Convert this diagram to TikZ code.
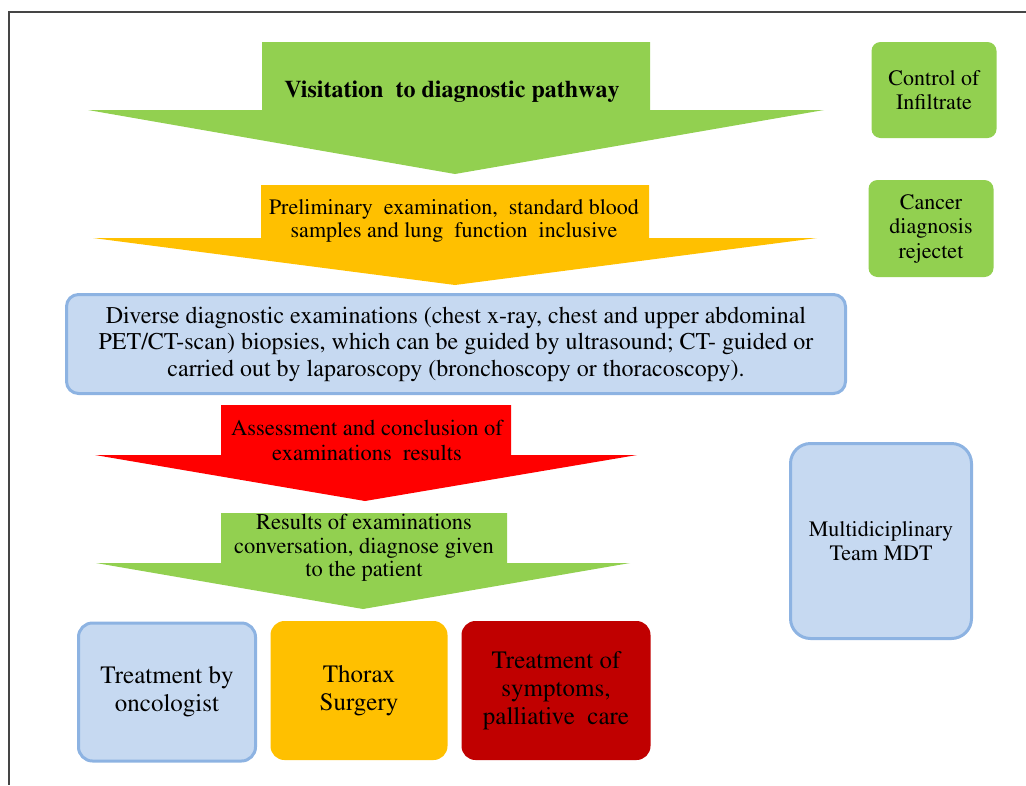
\documentclass[tikz,border=0pt]{standalone}
\usepackage[T1]{fontenc}
\renewcommand{\rmdefault}{ptm}
\usetikzlibrary{positioning,calc}
\definecolor{leafgreen}{HTML}{92D050}
\definecolor{amber}{HTML}{FFC000}
\definecolor{alarmred}{HTML}{FF0000}
\definecolor{darkred}{HTML}{C00000}
\definecolor{paleblue}{HTML}{C6D9F1}
\definecolor{edgeblue}{HTML}{8DB3E2}
\definecolor{framegray}{HTML}{454545}
\tikzset{
  arrowtext/.style={
    align=center,
    inner sep=0pt,
    font=\fontsize{22}{24}\selectfont
  },
  bluebox/.style={
    draw=edgeblue,
    line width=3pt,
    fill=paleblue,
    rounded corners=12pt,
    align=center,
    inner sep=0pt
  },
  greenbox/.style={
    fill=leafgreen,
    rounded corners=9pt,
    align=center,
    inner sep=0pt,
    font=\fontsize{22}{24.5}\selectfont
  },
  carebox/.style={
    rounded corners=14pt,
    align=center,
    inner sep=0pt,
    font=\fontsize{25}{28}\selectfont
  }
}
% block arrow: colour, shaft left, shaft right, top, wing y, wing left, wing right, tip x, tip y
\newcommand{\blockarrow}[9]{%
  \fill[#1] (#2,#4) -- (#3,#4) -- (#3,#5) -- (#7,#5) -- (#8,#9) -- (#6,#5) -- (#2,#5) -- cycle;}

\begin{document}
\begin{tikzpicture}[x=1pt,y=-1pt]
  \useasboundingbox (0,0) rectangle (1026,785);
  \draw[framegray, line width=1.5pt] (1026,12) -- (9,12) -- (9,785);

  % main pathway
  \blockarrow{leafgreen}{262}{650}{42}{110}{88}{824}{455}{174}
  \node[arrowtext,font=\fontsize{24}{26}\selectfont\bfseries] (visit) at (452,92) {Visitation~ to diagnostic pathway};

  \blockarrow{amber}{261}{649}{185}{238}{93}{817}{455}{285}
  \node[arrowtext,font=\fontsize{22}{22.5}\selectfont] (prelim) at (454,221) {Preliminary~ examination,~ standard blood\\samples and lung~ function~ inclusive};

  \node[bluebox,minimum width=779pt,minimum height=99pt,font=\fontsize{24}{26.5}\selectfont] (diverse) at (456,344)
    {Diverse diagnostic examinations (chest x-ray, chest and upper abdominal\\PET/CT-scan) biopsies, which can be guided by ultrasound; CT- guided or\\carried out by laparoscopy (bronchoscopy or thoracoscopy).};

  \blockarrow{alarmred}{221}{511}{405}{455}{95}{637}{365}{501}
  \node[arrowtext,font=\fontsize{22.5}{25}\selectfont] (assess) at (367,440) {Assessment and conclusion of\\examinations~ results};

  \blockarrow{leafgreen}{221}{507}{513}{563}{96}{630}{363}{609}
  \node[arrowtext,font=\fontsize{22.5}{23.5}\selectfont] (results) at (364,548) {Results of examinations\\conversation, diagnose given\\to the patient};

  % treatment
  \node[bluebox,carebox,minimum width=177pt,minimum height=138pt] (onco) at (167,692) {Treatment by\\oncologist};
  \node[carebox,fill=amber,minimum width=177pt,minimum height=139pt] (thorax) at (359,690.5) {Thorax\\Surgery};
  \node[carebox,fill=darkred,minimum width=189pt,minimum height=139pt] (palli) at (556,690.5) {Treatment of\\symptoms,\\palliative~ care};

  % side boxes
  \node[greenbox,minimum width=125pt,minimum height=96pt] (infil) at (934,90) {Control of\\Infiltrate};
  \node[greenbox,minimum width=125pt,minimum height=97pt] (reject) at (931,228.5) {Cancer\\diagnosis\\rejectet};
  \node[bluebox,rounded corners=20pt,minimum width=181pt,minimum height=195pt,font=\fontsize{22}{24.5}\selectfont] (mdt) at (881,541) {Multidiciplinary\\Team MDT};
\end{tikzpicture}
\end{document}
